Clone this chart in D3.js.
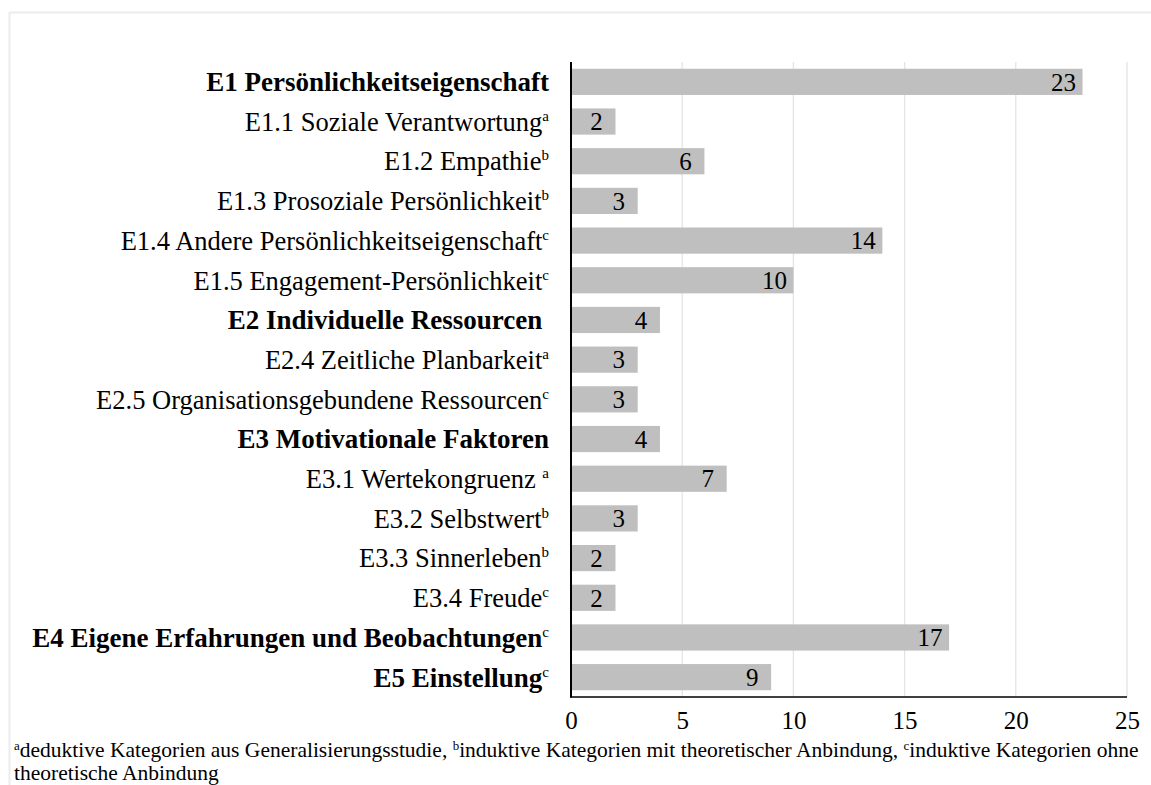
<!DOCTYPE html>
<html>
<head>
<meta charset="utf-8">
<script src="https://cdn.jsdelivr.net/npm/d3@7"></script>
<style>
  body { margin: 0; background: #fff; }
  svg text { font-family: "Liberation Serif", "Times New Roman", serif; }
</style>
</head>
<body>
<svg id="chart" width="1151" height="785"></svg>
<script>
const labels = [
  "E1 Persönlichkeitseigenschaft",
  "E1.1 Soziale Verantwortung",
  "E1.2 Empathie",
  "E1.3 Prosoziale Persönlichkeit",
  "E1.4 Andere Persönlichkeitseigenschaft",
  "E1.5 Engagement-Persönlichkeit",
  "E2 Individuelle Ressourcen\u00a0",
  "E2.4 Zeitliche Planbarkeit",
  "E2.5 Organisationsgebundene Ressourcen",
  "E3 Motivationale Faktoren",
  "E3.1 Wertekongruenz\u00a0",
  "E3.2 Selbstwert",
  "E3.3 Sinnerleben",
  "E3.4 Freude",
  "E4 Eigene Erfahrungen und Beobachtungen",
  "E5 Einstellung",
];
const sups = ["", "a", "b", "b", "c", "c", "", "a", "c", "", "a", "b", "b", "c", "c", "c"];
const isMain = [true, false, false, false, false, false, true, false, false, true, false, false, false, false, true, true];
const values = [23, 2, 6, 3, 14, 10, 4, 3, 3, 4, 7, 3, 2, 2, 17, 9];
const xTicks = [0, 5, 10, 15, 20, 25];
const footnote = [
  ["a", "deduktive Kategorien aus Generalisierungsstudie, "],
  ["b", "induktive Kategorien mit theoretischer Anbindung, "],
  ["c", "induktive Kategorien ohne"],
];
const footnote2 = "theoretische Anbindung";

const serif = "Liberation Serif, Times New Roman, serif";
const chart = d3.select("#chart");

// light frame
chart.append("line").attr("x1", 9).attr("x2", 1151).attr("y1", 12.5).attr("y2", 12.5)
  .attr("stroke", "#ececec").attr("stroke-width", 2);
chart.append("line").attr("x1", 9.5).attr("x2", 9.5).attr("y1", 12).attr("y2", 785)
  .attr("stroke", "#ececec").attr("stroke-width", 2);

const xScale = d3.scaleLinear().domain([0, 25]).range([571, 1127]);
const yScale = d3.scaleBand()
  .domain(d3.range(labels.length))
  .range([62, 697])
  .paddingInner(0.34)
  .paddingOuter(0.17);

// gridlines
chart.selectAll(".grid")
  .data(xTicks.slice(1))
  .enter()
  .append("line")
  .attr("x1", (d) => xScale(d))
  .attr("x2", (d) => xScale(d))
  .attr("y1", 62)
  .attr("y2", 697)
  .attr("stroke", "#e4e4e4")
  .attr("stroke-width", 1.3);

// bars
chart.selectAll(".bar")
  .data(values)
  .enter()
  .append("rect")
  .attr("x", xScale(0))
  .attr("y", (d, i) => yScale(i))
  .attr("width", (d) => xScale(d) - xScale(0))
  .attr("height", yScale.bandwidth())
  .attr("fill", "#bfbfbf");

// value labels
chart.selectAll(".val")
  .data(values)
  .enter()
  .append("text")
  .attr("x", (d) => xScale(d) - 19)
  .attr("y", (d, i) => yScale(i) + yScale.bandwidth() / 2)
  .attr("dy", "0.35em")
  .attr("text-anchor", "middle")
  .style("font-size", "25px")
  .text((d) => d);

// axes lines
chart.append("line").attr("x1", 571).attr("x2", 571).attr("y1", 62).attr("y2", 697.5)
  .attr("stroke", "#000").attr("stroke-width", 2);
chart.append("line").attr("x1", 570).attr("x2", 1127).attr("y1", 697).attr("y2", 697)
  .attr("stroke", "#000").attr("stroke-width", 1.5);

// x tick labels
const xAxis = d3.axisBottom(xScale).tickValues(xTicks).tickSize(0).tickPadding(14);
const gx = chart.append("g").attr("transform", "translate(0, 697)").call(xAxis)
  .attr("font-family", serif);
gx.select(".domain").remove();
gx.selectAll("text").style("font-size", "25px").attr("fill", "#000");

// category labels
const cat = chart.selectAll(".cat")
  .data(labels)
  .enter()
  .append("text")
  .attr("x", 549)
  .attr("y", (d, i) => yScale(i) + yScale.bandwidth() / 2)
  .attr("dy", "0.35em")
  .attr("text-anchor", "end")
  .style("font-size", (d, i) => (isMain[i] ? "27px" : "26.5px"))
  .style("font-weight", (d, i) => (isMain[i] ? "bold" : "normal"))
  .style("white-space", "pre");

cat.append("tspan").text((d) => d);
cat.filter((d, i) => sups[i] !== "")
  .append("tspan")
  .attr("dy", "-10px")
  .style("font-size", "15px")
  .style("font-weight", "normal")
  .text((d) => sups[labels.indexOf(d)]);

// footnote
const fn = chart.append("text").attr("x", 14).attr("y", 757).style("font-size", "21.5px");
footnote.forEach(([s, t]) => {
  fn.append("tspan").attr("dy", "-7px").style("font-size", "13px").text(s);
  fn.append("tspan").attr("dy", "7px").text(t);
});
chart.append("text").attr("x", 14).attr("y", 780).style("font-size", "21.5px").text(footnote2);
</script>
</body>
</html>
